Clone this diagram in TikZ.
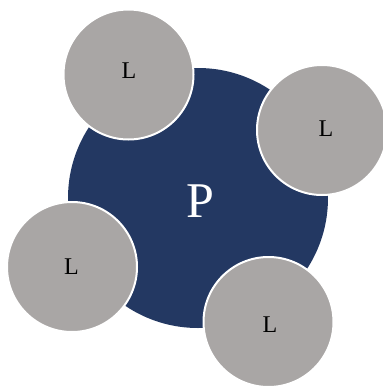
\documentclass[tikz,border=0pt]{standalone}
\usepackage{fontspec}
\setmainfont{Liberation Serif}
\definecolor{navy}{HTML}{233862}
\definecolor{lgray}{HTML}{A9A6A5}
\tikzset{
  bigc/.style={circle, fill=navy, minimum size=260pt, inner sep=0pt},
  smallc/.style={circle, fill=lgray, draw=white, line width=2pt, minimum size=130pt, inner sep=0pt},
  ptext/.style={text=white, inner sep=0pt, font=\fontsize{50}{50}\selectfont},
  ltext/.style={text=black, inner sep=0pt, font=\fontsize{24}{24}\selectfont}
}
\begin{document}
\begin{tikzpicture}[x=1pt,y=-1pt]
\useasboundingbox (0,0) rectangle (383,389);
\clip (0,0) rectangle (383,389);
\node[bigc] (p) at (198,198) {};
\node[ptext] (pl) at (200,201.5) {P};
\node[smallc] (l1) at (128.5,74.5) {};
\node[smallc] (l2) at (322,130) {};
\node[smallc] (l3) at (72,267) {};
\node[smallc] (l4) at (268.5,322) {};
\node[ltext] (t1) at (129,70.5) {L};
\node[ltext] (t2) at (326,128.5) {L};
\node[ltext] (t3) at (71.5,267) {L};
\node[ltext] (t4) at (270,324.5) {L};
\end{tikzpicture}
\end{document}
